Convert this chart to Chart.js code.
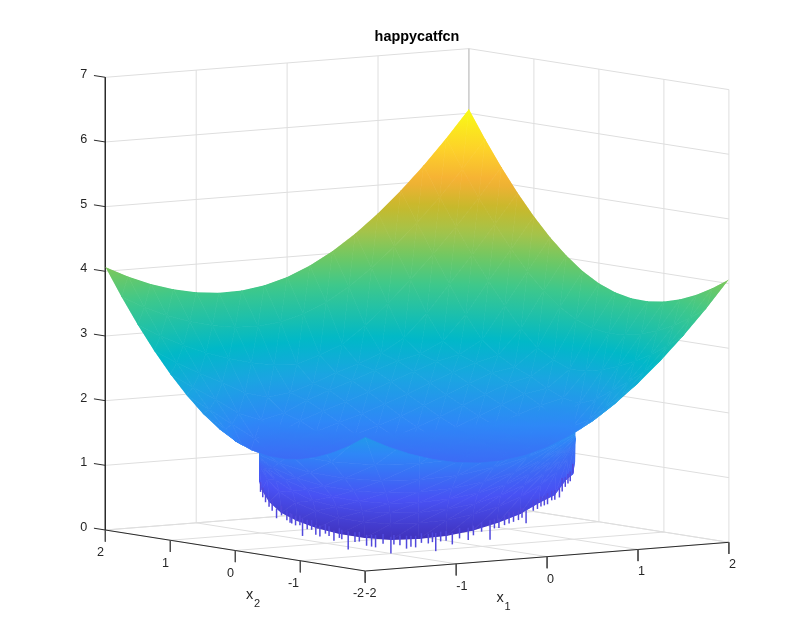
<!DOCTYPE html>
<html>
<head>
<meta charset="utf-8">
<style>
  html, body { margin: 0; padding: 0; background: #fff; }
  canvas { display: block; }
</style>
<script src="https://cdn.jsdelivr.net/npm/chart.js@4"></script>
</head>
<body>
<canvas id="myChart" width="805" height="643"></canvas>
<script>
const x1Ticks = [-2, -1, 0, 1, 2];
const x2Ticks = [-2, -1, 0, 1, 2];
const zTicks = [0, 1, 2, 3, 4, 5, 6, 7];

// surface height, one row per x2 value (low to high)
const gridSteps = [-2, -1.75, -1.5, -1.25, -1, -0.75, -0.5, -0.25, 0, 0.25, 0.5, 0.75, 1, 1.25, 1.5, 1.75, 2];
const surfaceZ = [
  [2.065, 1.891, 1.748, 1.64, 1.566, 1.531, 1.537, 1.589, 1.689, 1.839, 2.037, 2.281, 2.566, 2.89, 3.248, 3.641, 4.065],
  [1.891, 1.706, 1.552, 1.429, 1.339, 1.285, 1.273, 1.311, 1.406, 1.561, 1.773, 2.035, 2.339, 2.679, 3.052, 3.456, 3.891],
  [1.748, 1.552, 1.382, 1.238, 1.12, 1.027, 0.966, 0.953, 1.063, 1.05, 1.30, 1.777, 2.12, 2.488, 2.882, 3.302, 3.748],
  [1.64, 1.429, 1.238, 1.061, 0.882, 0.781, 0.828, 0.939, 1.079, 1.189, 1.328, 1.531, 1.882, 2.311, 2.738, 3.179, 3.64],
  [1.566, 1.339, 1.12, 0.882, 0.75, 0.829, 0.993, 1.125, 1.25, 1.375, 1.493, 1.579, 1.75, 2.132, 2.62, 3.089, 3.566],
  [1.531, 1.285, 1.027, 0.781, 0.829, 0.998, 1.122, 1.239, 1.361, 1.489, 1.622, 1.748, 1.829, 2.031, 2.527, 3.035, 3.531],
  [1.537, 1.273, 0.966, 0.828, 0.993, 1.122, 1.232, 1.343, 1.463, 1.593, 1.732, 1.872, 1.993, 2.078, 2.466, 3.023, 3.537],
  [1.589, 1.311, 0.953, 0.939, 1.125, 1.239, 1.343, 1.451, 1.57, 1.701, 1.843, 1.989, 2.125, 2.189, 2.453, 3.061, 3.589],
  [1.689, 1.406, 1.063, 1.079, 1.25, 1.361, 1.463, 1.57, 1.689, 1.82, 1.963, 2.111, 2.25, 2.329, 2.563, 3.156, 3.689],
  [1.839, 1.561, 1.05, 1.189, 1.375, 1.489, 1.593, 1.701, 1.82, 1.951, 2.093, 2.239, 2.375, 2.439, 2.703, 3.311, 3.839],
  [2.037, 1.773, 1.30, 1.328, 1.493, 1.622, 1.732, 1.843, 1.963, 2.093, 2.232, 2.372, 2.493, 2.578, 2.966, 3.523, 4.037],
  [2.281, 2.035, 1.777, 1.531, 1.579, 1.748, 1.872, 1.989, 2.111, 2.239, 2.372, 2.498, 2.579, 2.781, 3.277, 3.785, 4.281],
  [2.566, 2.339, 2.12, 1.882, 1.75, 1.829, 1.993, 2.125, 2.25, 2.375, 2.493, 2.579, 2.75, 3.132, 3.62, 4.089, 4.566],
  [2.89, 2.679, 2.488, 2.311, 2.132, 2.031, 2.078, 2.189, 2.329, 2.439, 2.578, 2.781, 3.132, 3.561, 3.988, 4.429, 4.89],
  [3.248, 3.052, 2.882, 2.738, 2.62, 2.527, 2.466, 2.453, 2.563, 2.703, 2.966, 3.277, 3.62, 3.988, 4.382, 4.802, 5.248],
  [3.641, 3.456, 3.302, 3.179, 3.089, 3.035, 3.023, 3.061, 3.156, 3.311, 3.523, 3.785, 4.089, 4.429, 4.802, 5.206, 5.641],
  [4.065, 3.891, 3.748, 3.64, 3.566, 3.531, 3.537, 3.589, 3.689, 3.839, 4.037, 4.281, 4.566, 4.89, 5.248, 5.641, 6.065]
];

// underside of the bowl near the dip: angle from the (-1,-1) direction, radius from the origin
const rimAngles = [-90, -80, -70, -60, -50, -40, -30, -20, -10, 0, 10, 20, 30, 40, 50, 60, 70, 80, 90, 100];
const rimRadii = [1.415, 1.43, 1.47, 1.55, 1.7, 1.95, 2.3, 2.9];
const rimZ = [
  [1.00, 0.85, 0.76, 0.62, 0.50, 0.41, 0.33, 0.27, 0.23, 0.21, 0.23, 0.27, 0.34, 0.44, 0.55, 0.69, 0.77, 0.96, 1.00, 1.15],
  [1.47, 1.30, 1.13, 0.97, 0.82, 0.70, 0.60, 0.52, 0.48, 0.46, 0.48, 0.52, 0.60, 0.70, 0.82, 0.97, 1.13, 1.30, 1.47, 1.65],
  [1.67, 1.49, 1.32, 1.15, 1.01, 0.88, 0.77, 0.70, 0.65, 0.64, 0.65, 0.70, 0.77, 0.88, 1.01, 1.15, 1.32, 1.49, 1.67, 1.85],
  [1.90, 1.71, 1.52, 1.35, 1.19, 1.06, 0.95, 0.87, 0.82, 0.80, 0.82, 0.87, 0.95, 1.06, 1.19, 1.35, 1.52, 1.71, 1.90, 2.09],
  [2.19, 1.99, 1.78, 1.59, 1.42, 1.27, 1.15, 1.06, 1.01, 0.99, 1.01, 1.06, 1.15, 1.27, 1.42, 1.59, 1.78, 1.99, 2.19, 2.40],
  [2.61, 2.37, 2.14, 1.92, 1.72, 1.55, 1.42, 1.31, 1.25, 1.23, 1.25, 1.31, 1.42, 1.55, 1.72, 1.92, 2.14, 2.37, 2.61, 2.85],
  [3.17, 2.89, 2.61, 2.36, 2.12, 1.92, 1.76, 1.64, 1.57, 1.54, 1.57, 1.64, 1.76, 1.92, 2.12, 2.36, 2.61, 2.89, 3.17, 3.45],
  [4.19, 3.84, 3.49, 3.17, 2.88, 2.62, 2.42, 2.27, 2.17, 2.14, 2.17, 2.27, 2.42, 2.62, 2.88, 3.17, 3.49, 3.84, 4.19, 4.55]
];

// thin spikes hanging off the rim: angle and height of the tip
const spikeAngles = [-72.5, -68, -64, -60, -57, -53.3, -49.6, -46, -44, -43, -40.8, -38.4, -37, -34.6, -32.4, -30.4, -28.5, -26, -24.4, -22.3, -20, -19, -16.4, -13.7, -12, -9.2, -7.3, -5.8, -3, -0.1, 1, 3.2, 5.6, 7.2, 8.9, 11, 13.5, 15, 16.2, 18, 20, 22.3, 25, 28.3, 30.3, 33.5, 36.9, 38.7, 40.6, 43, 45, 47, 49.3, 51, 53, 56.7, 59, 61, 63, 65, 67.8, 70, 73.6, 76, 79, 82, 85, 89.4];
const spikeZ = [0.72, 0.66, 0.60, 0.55, 0.50, 0.40, 0.46, 0.40, 0.37, 0.36, 0.34, 0.35, 0.19, 0.30, 0.30, 0.23, 0.21, 0.26, 0.23, 0.16, 0.21, 0.19, 0.04, 0.16, 0.17, 0.11, 0.10, 0.09, 0.15, 0.00, 0.14, 0.13, 0.08, 0.11, 0.10, 0.17, 0.16, 0.18, 0.04, 0.19, 0.20, 0.14, 0.23, 0.20, 0.27, 0.32, 0.19, 0.36, 0.36, 0.40, 0.42, 0.44, 0.46, 0.49, 0.40, 0.58, 0.60, 0.63, 0.64, 0.65, 0.70, 0.70, 0.72, 0.80, 0.86, 0.90, 0.92, 1.02];

const colorAt = [0, 0.143, 0.286, 0.38, 0.458, 0.52, 0.587, 0.65, 0.71, 0.77, 0.83, 0.90, 1];
const colorRGB = [
  [62, 38, 168], [72, 82, 244], [46, 135, 247], [26, 165, 225], [0, 184, 200], [30, 192, 170], [63, 200, 138],
  [110, 200, 100], [165, 195, 74], [200, 185, 43], [245, 176, 53], [253, 208, 42], [249, 251, 21]
];
const zTop = 6.07;

function zColor(z) {
  const t = Math.min(Math.max(z / zTop, 0), 1);
  let i = 0;
  while (i < colorAt.length - 2 && t > colorAt[i + 1]) i++;
  const f = (t - colorAt[i]) / (colorAt[i + 1] - colorAt[i]);
  const c = colorRGB[i].map((v, k) => Math.round(v + (colorRGB[i + 1][k] - v) * f));
  return 'rgb(' + c.join(',') + ')';
}

// fixed MATLAB-style view of the box, gives values for the chart's x and y scales
function project(x1, x2, z) {
  return {
    x: 417.1 + 90.9 * x1 - 65 * x2,
    y: 536.15 - 7.175 * x1 - 10.25 * x2 - 64.67 * z
  };
}

function rimPoint(angle, radius, z) {
  const a = (225 + angle) * Math.PI / 180;
  return project(radius * Math.cos(a), radius * Math.sin(a), z);
}

// triangle filled with a linear colour field from the heights at its corners
class SurfaceController extends Chart.LineController {
  draw() {
    const ds = this.getDataset();
    const pts = this._cachedMeta.data;
    const ctx = this.chart.ctx;
    const [p0, p1, p2] = pts;
    const [z0, z1, z2] = ds.heights;
    const dx1 = p1.x - p0.x, dy1 = p1.y - p0.y, dx2 = p2.x - p0.x, dy2 = p2.y - p0.y;
    const det = dx1 * dy2 - dx2 * dy1;
    let paint = zColor((z0 + z1 + z2) / 3);
    if (Math.abs(det) > 1e-3) {
      const a = ((z1 - z0) * dy2 - (z2 - z0) * dy1) / det;
      const b = (dx1 * (z2 - z0) - dx2 * (z1 - z0)) / det;
      const g2 = a * a + b * b;
      const lo = Math.min(z0, z1, z2), hi = Math.max(z0, z1, z2);
      if (g2 > 1e-9 && hi > lo) {
        paint = ctx.createLinearGradient(
          p0.x + (lo - z0) * a / g2, p0.y + (lo - z0) * b / g2,
          p0.x + (hi - z0) * a / g2, p0.y + (hi - z0) * b / g2
        );
        for (let k = 0; k <= 6; k++) paint.addColorStop(k / 6, zColor(lo + (hi - lo) * k / 6));
      }
    }
    ctx.save();
    const sx = this.chart.scales.x, sy = this.chart.scales.y;
    ctx.beginPath();
    ds.outline.forEach((p, i) => {
      const px = sx.getPixelForValue(p.x), py = sy.getPixelForValue(p.y);
      if (i === 0) ctx.moveTo(px, py); else ctx.lineTo(px, py);
    });
    ctx.closePath();
    ctx.clip();
    ctx.beginPath();
    ctx.moveTo(p0.x, p0.y);
    ctx.lineTo(p1.x, p1.y);
    ctx.lineTo(p2.x, p2.y);
    ctx.closePath();
    ctx.fillStyle = paint;
    ctx.strokeStyle = paint;
    ctx.lineWidth = 0.7;
    ctx.fill();
    ctx.stroke();
    ctx.restore();
  }
}
SurfaceController.id = 'surface';
SurfaceController.defaults = Chart.LineController.defaults;
Chart.register(SurfaceController);

const n = gridSteps.length;
const bowlOutline = [];
for (let i = 0; i < n; i++) bowlOutline.push(project(gridSteps[i], -2, surfaceZ[0][i]));
for (let j = 1; j < n; j++) bowlOutline.push(project(2, gridSteps[j], surfaceZ[j][n - 1]));
for (let i = n - 2; i >= 0; i--) bowlOutline.push(project(gridSteps[i], 2, surfaceZ[n - 1][i]));
for (let j = n - 2; j > 0; j--) bowlOutline.push(project(-2, gridSteps[j], surfaceZ[j][0]));

const rimOutline = [];
rimAngles.forEach((angle, k) => {
  if (k > 0) rimOutline.push(rimPoint(angle, rimRadii[0], rimZ[0][k]));
});
rimOutline.push(rimPoint(rimAngles[rimAngles.length - 1], rimRadii[0], 4));
rimOutline.push(rimPoint(rimAngles[1], rimRadii[0], 4));

function triangle(pts, heights, outline) {
  return { type: 'surface', data: pts, heights: heights, outline: outline, pointRadius: 0 };
}

function segment(pts, color, width) {
  return { type: 'line', data: pts, borderColor: color, borderWidth: width, pointRadius: 0, fill: false };
}

const layers = [];
const gridColor = '#dedede';
const axisColor = '#2b2b2b';
const tickColor = '#4d4d4d';

// walls and floor
zTicks.forEach(z => {
  layers.push(segment([project(-2, 2, z), project(2, 2, z), project(2, -2, z)], gridColor, 1));
});
x1Ticks.forEach(t => {
  layers.push(segment([project(t, -2, 0), project(t, 2, 0), project(t, 2, 7)], gridColor, 1));
});
x2Ticks.forEach(t => {
  layers.push(segment([project(-2, t, 0), project(2, t, 0), project(2, t, 7)], gridColor, 1));
});
layers.push(segment([project(2, 2, 0), project(2, 2, 7)], '#c4c4c4', 1));

// axes and tick marks
layers.push(segment([project(-2, 2, 7), project(-2, 2, 0), project(-2, -2, 0), project(2, -2, 0)], axisColor, 1));
zTicks.forEach(z => {
  layers.push(segment([project(-2, 2, z), project(-2, 2.175, z)], axisColor, 1));
});
x1Ticks.forEach(t => {
  layers.push(segment([project(t, -2, 0), project(t, -2, -0.18)], tickColor, 1));
});
x2Ticks.forEach(t => {
  layers.push(segment([project(-2, t, 0), project(-2, t, -0.18)], tickColor, 1));
});

// underside, inner rows first
for (let r = 0; r < rimRadii.length - 1; r++) {
  for (let k = 0; k < rimAngles.length - 1; k++) {
    const a = rimPoint(rimAngles[k], rimRadii[r], rimZ[r][k]);
    const b = rimPoint(rimAngles[k + 1], rimRadii[r], rimZ[r][k + 1]);
    const c = rimPoint(rimAngles[k + 1], rimRadii[r + 1], rimZ[r + 1][k + 1]);
    const d = rimPoint(rimAngles[k], rimRadii[r + 1], rimZ[r + 1][k]);
    layers.push(triangle([a, b, c], [rimZ[r][k], rimZ[r][k + 1], rimZ[r + 1][k + 1]], rimOutline));
    layers.push(triangle([a, c, d], [rimZ[r][k], rimZ[r + 1][k + 1], rimZ[r + 1][k]], rimOutline));
  }
}

// spikes under the rim
spikeAngles.forEach((angle, s) => {
  const k = Math.round((angle - rimAngles[0]) / 10);
  const top = Math.max(rimZ[0][k], spikeZ[s] + 0.1);
  layers.push(segment([rimPoint(angle, rimRadii[0], spikeZ[s]), rimPoint(angle, rimRadii[0], top + 0.05)], '#5048dc', 1.5));
});

// main sheet, far cells first
const cells = [];
for (let j = 0; j < n - 1; j++) {
  for (let i = 0; i < n - 1; i++) {
    cells.push({ i: i, j: j, depth: 0.581 * gridSteps[i] + 0.813 * gridSteps[j] });
  }
}
cells.sort((p, q) => q.depth - p.depth);
cells.forEach(({ i, j }) => {
  const x0 = gridSteps[i], x1 = gridSteps[i + 1], y0 = gridSteps[j], y1 = gridSteps[j + 1];
  const z00 = surfaceZ[j][i], z10 = surfaceZ[j][i + 1], z01 = surfaceZ[j + 1][i], z11 = surfaceZ[j + 1][i + 1];
  layers.push(triangle([project(x1, y1, z11), project(x0, y1, z01), project(x0, y0, z00)], [z11, z01, z00], bowlOutline));
  layers.push(triangle([project(x1, y1, z11), project(x1, y0, z10), project(x0, y0, z00)], [z11, z10, z00], bowlOutline));
});

const labelsPlugin = {
  id: 'boxLabels',
  afterDraw: (chart) => {
    const { ctx, scales } = chart;
    const px = p => scales.x.getPixelForValue(p.x);
    const py = p => scales.y.getPixelForValue(p.y);
    ctx.save();
    ctx.fillStyle = '#262626';
    ctx.textBaseline = 'middle';
    ctx.font = '12.6px "Liberation Sans"';
    ctx.textAlign = 'right';
    zTicks.forEach(z => {
      const p = project(-2, 2, z);
      ctx.fillText(String(z), px(p) - 18, py(p) - 2.5);
    });
    x2Ticks.forEach(t => {
      const p = project(-2, t, 0);
      ctx.fillText(String(t), px(p) - 1.2, py(p) + 23);
    });
    ctx.textAlign = 'left';
    x1Ticks.forEach(t => {
      const p = project(t, -2, 0);
      ctx.fillText(String(t), px(p), py(p) + 22.5);
    });
    ctx.textAlign = 'center';
    ctx.font = '14.5px "Liberation Sans"';
    ctx.fillText('x', 249.5, 595);
    ctx.fillText('x', 500, 598);
    ctx.font = '11px "Liberation Sans"';
    ctx.fillText('2', 257, 603.5);
    ctx.fillText('1', 507.5, 606.5);
    ctx.fillStyle = '#000';
    ctx.font = 'bold 14.4px "Liberation Sans"';
    ctx.fillText('happycatfcn', 417, 37);
    ctx.restore();
  }
};

const ctx = document.getElementById('myChart');
// the first dataset is painted last, so the stack is turned round
new Chart(ctx, {
  type: 'scatter',
  data: { datasets: layers.slice().reverse() },
  options: {
    responsive: false,
    animation: false,
    events: [],
    layout: { padding: 0 },
    scales: {
      x: { type: 'linear', min: 0, max: 805, display: false },
      y: { type: 'linear', min: 0, max: 643, reverse: true, display: false }
    },
    plugins: { legend: { display: false }, tooltip: { enabled: false } }
  },
  plugins: [labelsPlugin]
});
</script>
</body>
</html>
